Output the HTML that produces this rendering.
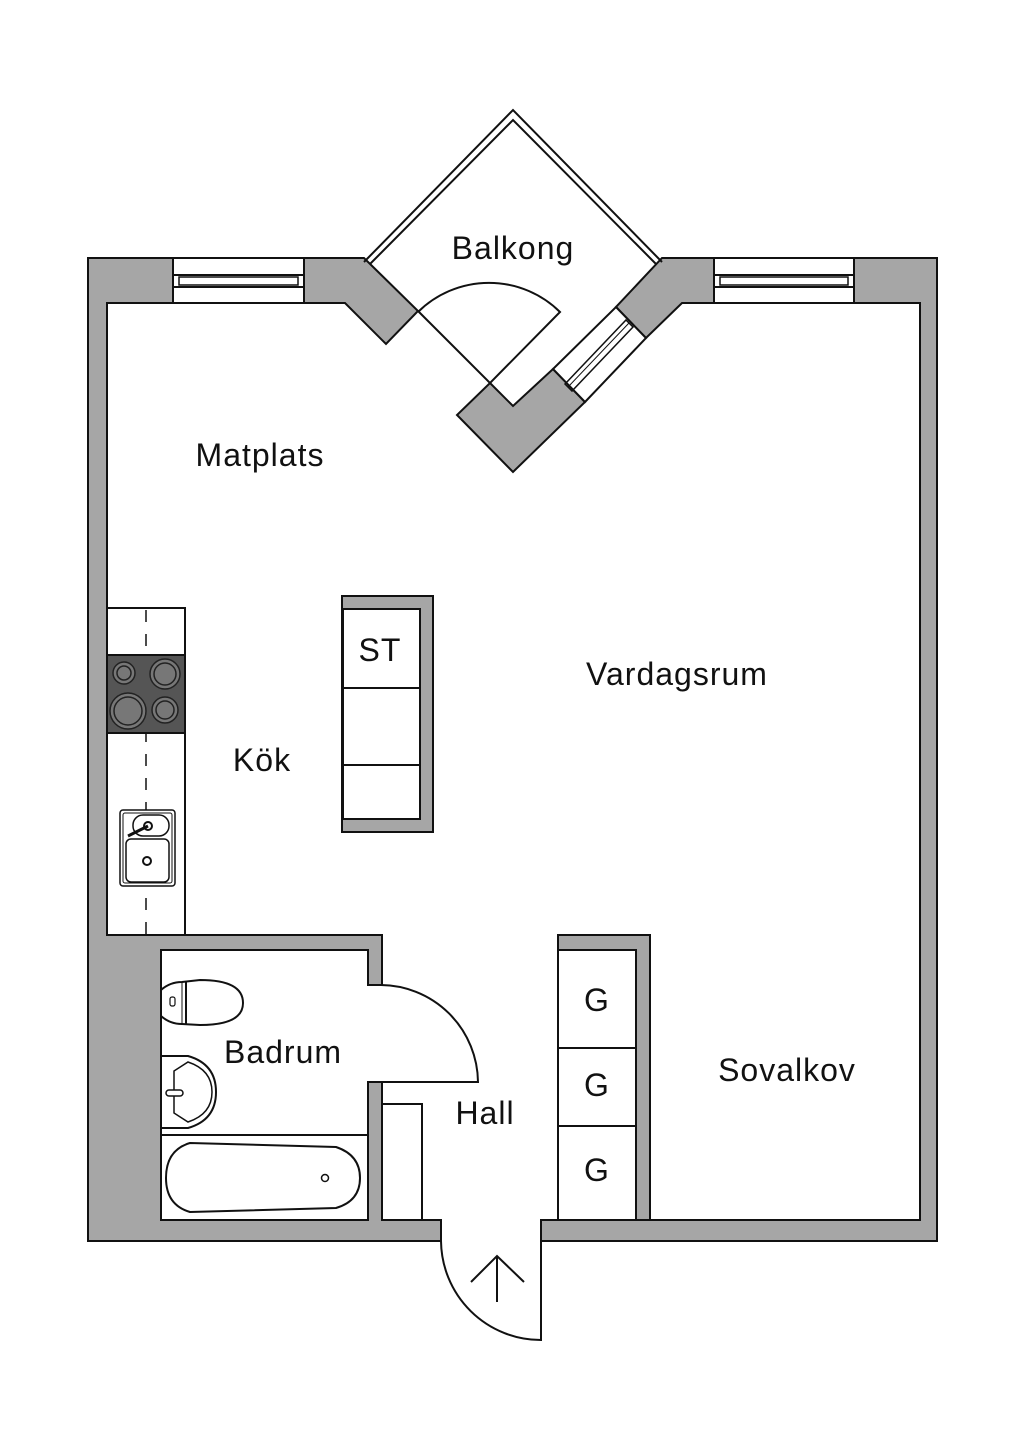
<!DOCTYPE html>
<html><head><meta charset="utf-8"><style>
body{margin:0;background:#fff}
svg{display:block}
text{font-family:"Liberation Sans",sans-serif;font-size:32px;letter-spacing:1px;fill:#111;text-anchor:middle}
</style></head><body>
<svg width="1024" height="1448" viewBox="0 0 1024 1448" xmlns="http://www.w3.org/2000/svg">
<g stroke="#111" stroke-width="2" stroke-linejoin="miter">
<path fill="#a6a6a6" fill-rule="evenodd" d="M88,258 H364 L418,311 L386,344 L345,303 H107 V935 H382 V985 H368 V950 H161 V1220 H368 V1082 H382 V1220 H441 V1241 H88 Z"/>
<path fill="#a6a6a6" d="M662,258 H937 V1241 H541 V1220 H650 V935 H558 V950 H636 V1220 H920 V303 H682 L646,338 L616,307 Z"/>
<path fill="#a6a6a6" d="M490,383 L513,406 L553,369 L585,402 L513,472 L457,415 Z"/>
<rect x="173" y="258" width="131" height="45" fill="#fff"/>
<rect x="173" y="275" width="131" height="12" fill="#fff"/>
<rect x="179" y="277" width="119" height="8" fill="#fff" stroke-width="1.5"/>
<rect x="714" y="258" width="140" height="45" fill="#fff"/>
<rect x="714" y="275" width="140" height="12" fill="#fff"/>
<rect x="720" y="277" width="128" height="8" fill="#fff" stroke-width="1.5"/>
<path fill="#fff" d="M616,307 L646,338 L585,402 L553,369 Z"/>
<path fill="none" d="M626,320 L633,327 L572,391 L565,384 Z" stroke-width="1.5"/>
<path fill="none" d="M629,323 L568,387" stroke-width="1"/>
<path fill="none" d="M364,262 L513,110 L662,262"/>
<path fill="none" d="M370,264 L513,120 L656,264"/>
<path fill="none" d="M418,311 L490,383"/>
<path fill="none" d="M418,312 A101,101 0 0 1 560,312 L490,383"/>
<rect x="107" y="608" width="78" height="327" fill="#fff"/>
<line x1="146" y1="610" x2="146" y2="935" stroke-width="1.5" stroke-dasharray="12,12"/>
<rect x="107" y="655" width="78" height="78" fill="#555"/>
<g fill="#777" stroke="#222" stroke-width="1.5">
<circle cx="124" cy="673" r="11"/><circle cx="124" cy="673" r="7"/>
<circle cx="165" cy="674" r="15"/><circle cx="165" cy="674" r="11"/>
<circle cx="128" cy="711" r="18"/><circle cx="128" cy="711" r="14"/>
<circle cx="165" cy="710" r="13"/><circle cx="165" cy="710" r="9"/>
</g>
<rect x="120" y="810" width="55" height="76" rx="3" fill="#fff" stroke-width="1.5"/>
<rect x="123" y="813" width="49" height="70" rx="2" fill="none" stroke-width="1"/>
<rect x="133" y="815" width="36" height="21" rx="10" fill="#fff" stroke-width="1.5"/>
<rect x="126" y="839" width="43" height="43" rx="5" fill="#fff" stroke-width="1.5"/>
<circle cx="148" cy="826" r="4" fill="none"/><line x1="148" y1="826" x2="128" y2="836" stroke-width="3"/>
<circle cx="147" cy="861" r="4" fill="none"/>
<rect x="342" y="596" width="91" height="236" fill="#a6a6a6"/>
<rect x="343" y="609" width="77" height="210" fill="#fff"/>
<line x1="343" y1="688" x2="420" y2="688"/><line x1="343" y1="765" x2="420" y2="765"/>
<line x1="636" y1="1048" x2="558" y2="1048"/><line x1="636" y1="1126" x2="558" y2="1126"/>
<line x1="558" y1="950" x2="558" y2="1220"/>
<path fill="#fff" d="M368,985 H380 A98,98 0 0 1 478,1082 H382 V1082 H368"/>
<path fill="none" d="M382,1104 H422 V1220"/>
<path fill="#fff" d="M161,990 Q170,982 182,982 L200,980 Q243,980 243,1003 Q243,1025 200,1025 L182,1024 Q170,1024 161,1016 Z"/>
<line x1="186" y1="982" x2="186" y2="1024"/><line x1="182" y1="982" x2="182" y2="1024" stroke-width="1"/>
<rect x="170" y="997" width="5" height="9" rx="2" fill="none" stroke-width="1.2"/>
<path fill="#fff" d="M161,1056 H188 Q216,1064 216,1092 Q216,1120 188,1128 H161 Z"/>
<path fill="none" d="M174,1071 L188,1062 Q212,1070 212,1092 Q212,1114 188,1122 L174,1113 Z" stroke-width="1.5"/>
<rect x="166" y="1090" width="17" height="6" rx="3" fill="#fff" stroke-width="1.5"/>
<line x1="161" y1="1135" x2="368" y2="1135"/>
<path fill="#fff" d="M190,1143 L336,1147 Q360,1155 360,1178 Q360,1201 336,1208 L190,1212 Q166,1205 166,1178 Q166,1150 190,1143 Z"/>
<circle cx="325" cy="1178" r="3.5" fill="none" stroke-width="1.5"/>
<path fill="none" d="M441,1241 A100,100 0 0 0 541,1340 V1241"/>
<line x1="497" y1="1302" x2="497" y2="1256"/>
<path fill="none" d="M471,1282 L497,1256 L524,1282"/>
</g>
<text x="513" y="259">Balkong</text>
<text x="260" y="466">Matplats</text>
<text x="677" y="685">Vardagsrum</text>
<text x="262" y="771">Kök</text>
<text x="380" y="661">ST</text>
<text x="283" y="1063">Badrum</text>
<text x="485" y="1124">Hall</text>
<text x="787" y="1081">Sovalkov</text>
<text x="597" y="1011">G</text>
<text x="597" y="1096">G</text>
<text x="597" y="1181">G</text>
</svg>
</body></html>
